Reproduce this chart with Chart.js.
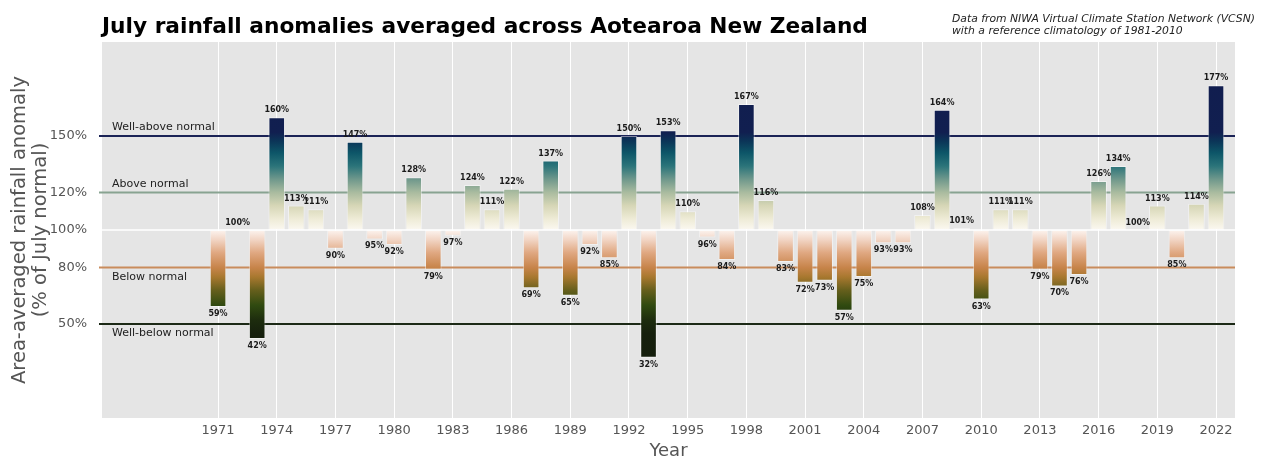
<!DOCTYPE html>
<html>
<head>
<meta charset="utf-8">
<script src="https://cdn.jsdelivr.net/npm/chart.js@4.4.1/dist/chart.umd.min.js"></script>
<style>
  html, body { margin: 0; padding: 0; background: #ffffff; }
  #wrap { width: 1262px; height: 460px; }
</style>
</head>
<body>
<div id="wrap"><canvas id="myChart" width="1262" height="460"></canvas></div>
<script>
// July rainfall, % of 1981-2010 normal, one value per year
const YEARS = [1971, 1972, 1973, 1974, 1975, 1976, 1977, 1978, 1979, 1980,
  1981, 1982, 1983, 1984, 1985, 1986, 1987, 1988, 1989, 1990,
  1991, 1992, 1993, 1994, 1995, 1996, 1997, 1998, 1999, 2000,
  2001, 2002, 2003, 2004, 2005, 2006, 2007, 2008, 2009, 2010,
  2011, 2012, 2013, 2014, 2015, 2016, 2017, 2018, 2019, 2020,
  2021, 2022];
const ANOMALY = [59, 100, 42, 160, 113, 111, 90, 147, 95, 92,
  128, 79, 97, 124, 111, 122, 69, 137, 65, 92,
  85, 150, 32, 153, 110, 96, 84, 167, 116, 83,
  72, 73, 57, 75, 93, 93, 108, 164, 101, 63,
  111, 111, 79, 70, 76, 126, 134, 100, 113, 85,
  114, 177];
const X_TICKS = [1971, 1974, 1977, 1980, 1983, 1986, 1989, 1992, 1995, 1998,
  2001, 2004, 2007, 2010, 2013, 2016, 2019, 2022];
const Y_TICKS = [50, 80, 100, 120, 150];
const LEVELS = [150, 120, 80, 50];
const LEVEL_NAMES = ["Well-above normal", "Above normal", "Below normal", "Well-below normal"];

const FONT = "'DejaVu Sans', sans-serif";
const LEVEL_COLORS = ["#1b2356", "#88a391", "#c98c5c", "#1c2916"];

// colour ramp by value (0..200), dry colours below 100, wet above
const RAMP = [
  [0, "#111a0b"], [45, "#16200d"], [52, "#1d2c0e"], [60, "#304a10"],
  [68, "#665f1c"], [75, "#a8782f"], [80, "#c7844a"], [88, "#e0a882"],
  [95, "#f2d6c6"], [99.9, "#fcf3ee"],
  [100, "#fbf8f1"], [106, "#eeebd6"], [113, "#d6d6b6"], [120, "#a9bb9f"],
  [127, "#6f988c"], [134, "#2b747a"], [141, "#0d5668"], [147, "#0b3658"],
  [152, "#111f50"], [200, "#111c4e"]
];

let cachedGrad = null, cachedKey = "";
function barFill(context) {
  const chart = context.chart;
  const area = chart.chartArea;
  if (!area) return "#cccccc";
  const y = chart.scales.y;
  const key = area.top + "_" + area.bottom;
  if (cachedGrad && cachedKey === key) return cachedGrad;
  const bottom = y.getPixelForValue(0), top = y.getPixelForValue(200);
  const g = chart.ctx.createLinearGradient(0, bottom, 0, top);
  RAMP.forEach(([v, c]) => g.addColorStop(v / 200, c));
  cachedGrad = g; cachedKey = key;
  return g;
}

// threshold lines + white 100% line, behind the bars
const levelLines = {
  id: "levelLines",
  beforeDatasetsDraw(chart) {
    const { ctx, chartArea, scales } = chart;
    ctx.save();
    ctx.lineWidth = 1.5;
    ctx.strokeStyle = "#ffffff";
    let p = scales.y.getPixelForValue(100);
    ctx.beginPath(); ctx.moveTo(chartArea.left - 3, p); ctx.lineTo(chartArea.right, p); ctx.stroke();
    ctx.lineWidth = 2;
    LEVELS.forEach((lv, i) => {
      p = scales.y.getPixelForValue(lv);
      ctx.strokeStyle = LEVEL_COLORS[i];
      ctx.beginPath(); ctx.moveTo(chartArea.left - 3, p); ctx.lineTo(chartArea.right, p); ctx.stroke();
    });
    ctx.restore();
  },
  afterDatasetsDraw(chart) {
    const { ctx, chartArea, scales } = chart;
    ctx.save();
    // level names
    ctx.font = "11px " + FONT;
    ctx.fillStyle = "#222222";
    ctx.textAlign = "left";
    LEVELS.forEach((lv, i) => {
      const p = scales.y.getPixelForValue(lv);
      if (lv > 100) { ctx.textBaseline = "bottom"; ctx.fillText(LEVEL_NAMES[i], chartArea.left + 10, p - 3); }
      else { ctx.textBaseline = "top"; ctx.fillText(LEVEL_NAMES[i], chartArea.left + 10, p + 4); }
    });
    // value labels
    ctx.font = "bold 8px " + FONT;
    ctx.fillStyle = "#1a1a1a";
    ctx.textAlign = "center";
    const meta = chart.getDatasetMeta(0);
    meta.data.forEach((bar, i) => {
      const v = ANOMALY[i];
      const txt = v + "%";
      const hi = Math.min(bar.y, bar.base), lo = Math.max(bar.y, bar.base);
      if (v >= 100) { ctx.textBaseline = "bottom"; ctx.fillText(txt, bar.x, hi - 3); }
      else { ctx.textBaseline = "top"; ctx.fillText(txt, bar.x, lo + 3); }
    });
    ctx.restore();
  },
  afterDraw(chart) {
    const { ctx, chartArea } = chart;
    ctx.save();
    ctx.fillStyle = "#000000";
    ctx.textAlign = "left";
    ctx.textBaseline = "alphabetic";
    ctx.font = "bold 21.7px " + FONT;
    ctx.fillText("July rainfall anomalies averaged across Aotearoa New Zealand", chartArea.left, 33);
    ctx.font = "italic 10.8px " + FONT;
    ctx.fillStyle = "#222222";
    ctx.fillText("Data from NIWA Virtual Climate Station Network (VCSN)", 952, 22);
    ctx.fillText("with a reference climatology of 1981-2010", 952, 34);
    ctx.restore();
  }
};

// plot panel background
const panelBg = {
  id: "panelBg",
  beforeDraw(chart) {
    const { ctx, chartArea } = chart;
    ctx.save();
    ctx.fillStyle = "#e5e5e5";
    ctx.fillRect(chartArea.left, chartArea.top, chartArea.right - chartArea.left, chartArea.bottom - chartArea.top);
    ctx.restore();
  }
};

function generateGraph() {
  const points = YEARS.map((yr, i) => ({ x: yr, y: [100, ANOMALY[i]] }));
  const ctx = document.getElementById("myChart").getContext("2d");
  return new Chart(ctx, {
    type: "bar",
    data: {
      datasets: [{
        data: points,
        backgroundColor: barFill,
        borderColor: "rgba(255,255,255,0.45)",
        borderWidth: 1,
        borderSkipped: false,
        categoryPercentage: 1,
        barPercentage: 0.85
      }]
    },
    options: {
      responsive: false,
      animation: false,
      events: [],
      layout: { padding: { top: 42, right: 27, left: 0, bottom: 0 } },
      plugins: { legend: { display: false }, tooltip: { enabled: false } },
      scales: {
        x: {
          type: "linear",
          min: 1965.07,
          max: 2022.97,
          offset: false,
          afterBuildTicks: (s) => { s.ticks = X_TICKS.map((v) => ({ value: v })); },
          afterFit: (s) => { s.height = 42; },
          grid: { color: "#ffffff", lineWidth: 1, drawTicks: false, offset: false },
          border: { display: false },
          ticks: {
            font: { family: FONT, size: 13 },
            color: "#555555",
            padding: 5,
            maxRotation: 0,
            autoSkip: false,
            callback: (v) => String(v)
          },
          title: {
            display: true,
            text: "Year",
            font: { family: FONT, size: 18, lineHeight: 1.0 },
            color: "#555555",
            padding: { top: 0, bottom: 0 }
          }
        },
        y: {
          min: 0,
          max: 200,
          afterBuildTicks: (s) => { s.ticks = Y_TICKS.map((v) => ({ value: v })); },
          afterFit: (s) => { s.width = 102; },
          grid: { display: false },
          border: { display: false },
          ticks: {
            font: { family: FONT, size: 13 },
            color: "#555555",
            padding: 7,
            callback: (v) => v + "%"
          },
          title: {
            display: true,
            text: ["Area-averaged rainfall anomaly", "(% of July normal)"],
            font: { family: FONT, size: 19.5, lineHeight: 1.1 },
            color: "#555555",
            padding: { top: 9, bottom: 0 }
          }
        }
      }
    },
    plugins: [panelBg, levelLines]
  });
}

generateGraph();
</script>
</body>
</html>
